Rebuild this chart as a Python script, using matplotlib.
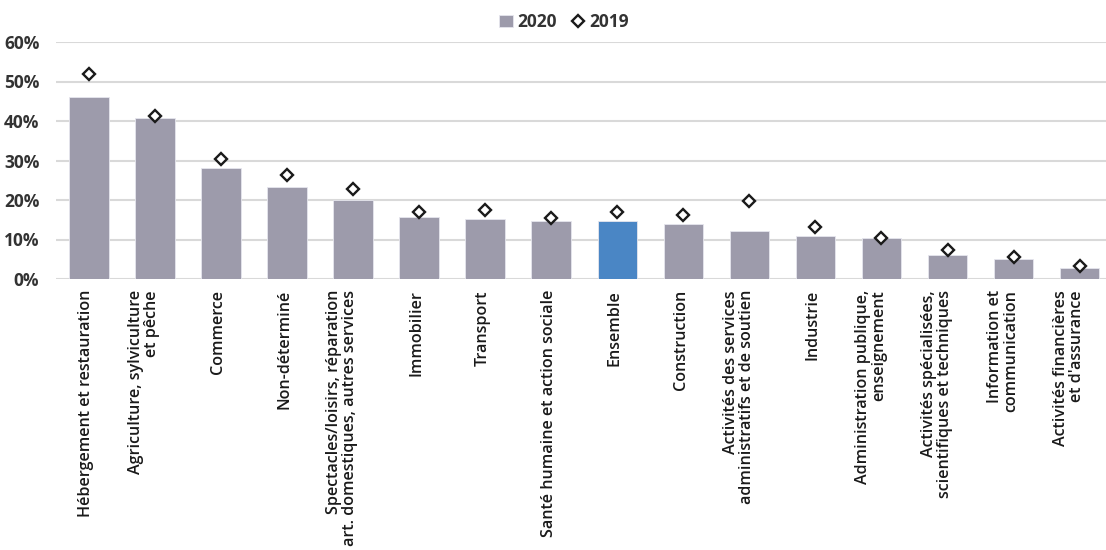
import matplotlib.pyplot as plt
import numpy as np

categories = [
    "Hébergement et restauration",
    "Agriculture, sylviculture\net pêche",
    "Commerce",
    "Non-déterminé",
    "Spectacles/loisirs, réparation\nart. domestiques, autres services",
    "Immobilier",
    "Transport",
    "Santé humaine et action sociale",
    "Ensemble",
    "Construction",
    "Activités des services\nadministratifs et de soutien",
    "Industrie",
    "Administration publique,\nenseignement",
    "Activités spécialisées,\nscientifiques et techniques",
    "Information et\ncommunication",
    "Activités financières\net d'assurance",
]
values_2020 = [46.0, 40.7, 28.2, 23.4, 19.9, 15.7, 15.1, 14.8, 14.8, 13.9, 12.2, 11.0, 10.4, 6.2, 5.1, 2.7]
values_2019 = [51.9, 41.2, 30.5, 26.3, 22.8, 17.0, 17.5, 15.4, 17.0, 16.2, 19.8, 13.2, 10.3, 7.4, 5.6, 3.2]
highlight = "Ensemble"

plt.rcParams['font.family'] = ['Open Sans', 'DejaVu Sans']

grey = '#9d9bab'
blue = '#4a86c5'

fig = plt.figure(figsize=(11.06, 5.5), dpi=100)
ax = fig.add_axes([56 / 1106, 1 - 279 / 550, 1 - 56 / 1106, (279 - 42) / 550])

x = np.arange(len(categories))
colors = [blue if c == highlight else grey for c in categories]
bars = ax.bar(x, values_2020, width=0.6, color=colors, edgecolor='#e6e6ee', linewidth=0.6,
              zorder=2)
pts, = ax.plot(x, values_2019, linestyle='none', marker='D', markersize=6.5,
               markerfacecolor='white', markeredgecolor='#1a1a1a', markeredgewidth=1.7,
               zorder=3)

ax.set_ylim(0, 60)
ax.set_xlim(-0.5, 15.4)
ax.set_yticks(range(0, 61, 10))
ax.set_yticklabels([f"{v}%" for v in range(0, 61, 10)], fontsize=12.5, fontweight='bold',
                   color='#333333')
ax.yaxis.grid(True, color='#d9d9d9', linewidth=1.5, zorder=0)
ax.set_axisbelow(True)
ax.tick_params(axis='y', length=0, pad=12)
ax.tick_params(axis='x', length=0, pad=8)
for s in ax.spines.values():
    s.set_visible(False)

ax.set_xticks(x + 0.08)
ax.set_xticklabels(categories, rotation=90, ha='right', va='top', multialignment='right',
                   fontsize=11.6, fontweight='semibold', color='#1a1a1a', linespacing=1.0)

fig.legend([bars, pts], ['2020', '2019'], loc='upper center', bbox_to_anchor=(0.51, 1.005),
           ncol=2, frameon=False, prop={'size': 12.5, 'weight': 'bold'},
           handlelength=0.8, handletextpad=0.25, columnspacing=0.8, labelcolor='#333333')

fig.savefig('out.png', dpi=100)
